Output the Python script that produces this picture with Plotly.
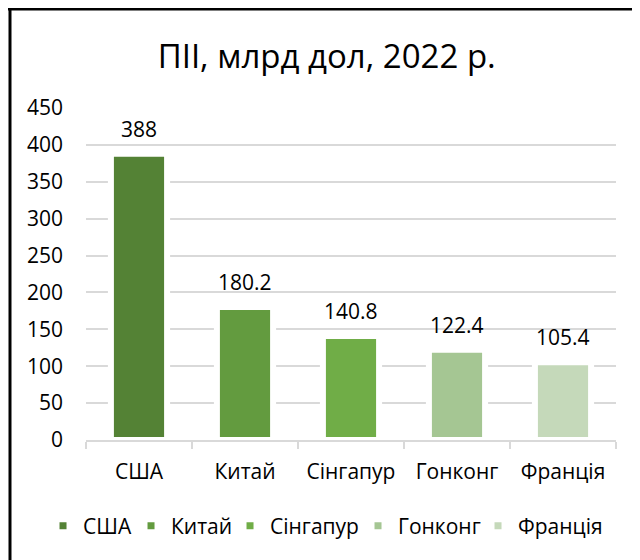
"""FDI by country, 2022 - bar chart."""

import plotly.graph_objects as go

countries = ['США', 'Китай', 'Сінгапур', 'Гонконг', 'Франція']
fdi = [388, 180.2, 140.8, 122.4, 105.4]
fdi_labels = ['388', '180.2', '140.8', '122.4', '105.4']
colors = ['#548235', '#639B3F', '#70AD47', '#A5C693', '#C5D9BA']
y_ticks = [0, 50, 100, 150, 200, 250, 300, 350, 400, 450]

FONT = 'Open Sans'
# width of each legend entry, so the items sit like in the original
legend_widths = [43, 54, 83, 75, 84]

fig = go.Figure()

# one trace per country so each gets its own legend entry
for name, val, col, lw in zip(countries, fdi, colors, legend_widths):
    fig.add_trace(go.Bar(
        x=[name], y=[val],
        name=name,
        marker=dict(color=col, line=dict(color='white', width=6)),
        width=0.53,
        legendwidth=lw,
        hoverinfo='x+y',
    ))

# data labels above the bars
for name, val, lab in zip(countries, fdi, fdi_labels):
    fig.add_annotation(
        x=name, y=val, text=lab,
        showarrow=False, yanchor='middle', yshift=25,
        font=dict(family=FONT, size=21, color='#000000'),
    )

fig.update_layout(
    width=640, height=560,
    barmode='relative',
    paper_bgcolor='white', plot_bgcolor='white',
    margin=dict(l=78, r=32, t=100, b=128, autoexpand=False),
    title=dict(
        text='ПІІ, млрд дол, 2022 р.',
        x=0.498, xanchor='center', xref='container',
        y=0.914, yanchor='middle', yref='container',
        font=dict(family=FONT, size=33, color='#000000'),
    ),
    font=dict(family=FONT, size=21, color='#000000'),
    legend=dict(
        orientation='h',
        # placed left of / below the plot area so it may span the margin too
        xref='paper', x=-0.0811, xanchor='left',
        yref='paper', y=-0.259, yanchor='middle',
        font=dict(family=FONT, size=21, color='#000000'),
        itemwidth=30,
        traceorder='normal',
    ),
    showlegend=True,
)

fig.update_yaxes(
    range=[0, 450],
    tickvals=y_ticks,
    showgrid=True, gridcolor='#d9d9d9', gridwidth=1.5,
    zeroline=False,
    showline=False,
    ticks='',
    ticklabelstandoff=22,
    automargin=False,
    tickfont=dict(family=FONT, size=21, color='#000000'),
)

fig.update_xaxes(
    showline=True, linecolor='#d9d9d9', linewidth=1.5,
    ticks='outside', tickson='boundaries', ticklen=7,
    tickcolor='#d9d9d9', tickwidth=1.5,
    ticklabelstandoff=12,
    automargin=False,
    tickfont=dict(family=FONT, size=21, color='#000000'),
)

# chart frame (only left and top edges fall inside the picture)
fig.add_shape(type='line', xref='paper', yref='paper',
              x0=-0.1434, x1=-0.1434, y0=1.3, y1=-0.4,
              line=dict(color='#000000', width=3))
fig.add_shape(type='line', xref='paper', yref='paper',
              x0=-0.2, x1=1.2, y0=1.298, y1=1.298,
              line=dict(color='#000000', width=3))

fig.write_html('out.html')
